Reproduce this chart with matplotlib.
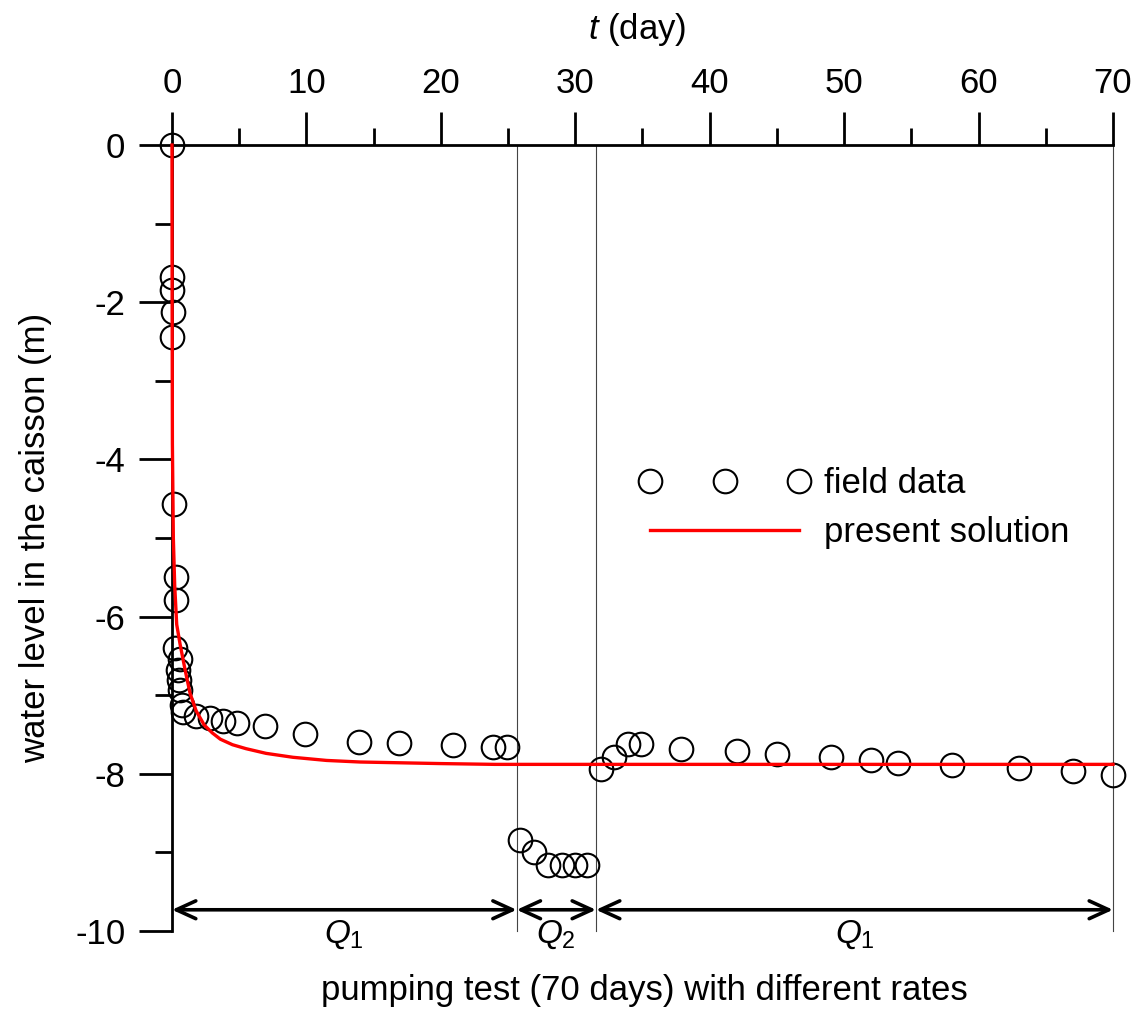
import matplotlib
matplotlib.use("Agg")
import matplotlib.pyplot as plt
from matplotlib.legend_handler import HandlerLine2D
from matplotlib.lines import Line2D

plt.rcParams['font.family'] = ['Liberation Sans', 'DejaVu Sans']
plt.rcParams['mathtext.fontset'] = 'custom'
plt.rcParams['mathtext.rm'] = 'Liberation Sans'
plt.rcParams['mathtext.it'] = 'Liberation Sans:italic'
plt.rcParams['axes.unicode_minus'] = False

# field data, Q1 (first stage)
t_q1a = [0, 0, 0, 0.05, 0, 0.15, 0.27, 0.27, 0.25, 0.6, 0.45, 0.5, 0.6, 0.72, 0.85,
         1.8, 2.8, 3.8, 4.8, 6.9, 9.9, 13.9, 16.9, 20.9, 23.9, 24.9]
h_q1a = [0, -1.68, -1.84, -2.13, -2.44, -4.57, -5.49, -5.79, -6.40, -6.54, -6.68, -6.81,
         -6.93, -7.12, -7.22, -7.26, -7.29, -7.33, -7.36, -7.39, -7.49, -7.60, -7.61,
         -7.63, -7.66, -7.66]
# field data, Q2
t_q2 = [25.9, 26.9, 28.0, 29.0, 30.0, 30.9]
h_q2 = [-8.84, -9.00, -9.16, -9.16, -9.16, -9.16]
# field data, Q1 (second stage)
t_q1b = [31.9, 32.9, 33.9, 34.9, 37.9, 42, 45, 49, 52, 54, 58, 63, 67, 70]
h_q1b = [-7.94, -7.78, -7.62, -7.62, -7.68, -7.71, -7.75, -7.78, -7.82, -7.86, -7.89,
         -7.93, -7.97, -8.01]

# present solution
t_sol = [0, 0.01, 0.03, 0.1, 0.2, 0.35, 0.6, 1.0, 1.35, 1.8, 2.4, 3.0, 3.6, 4.5, 5.5,
         7, 9, 11.5, 14, 17, 20, 24, 30, 40, 50, 60, 70]
h_sol = [0, -2.0, -3.8, -5.0, -5.6, -6.1, -6.35, -6.7, -6.98, -7.2, -7.38, -7.48, -7.56,
         -7.63, -7.68, -7.74, -7.79, -7.83, -7.85, -7.86, -7.87, -7.88, -7.88, -7.88,
         -7.88, -7.88, -7.88]

# pumping stages
stage_edges = [0, 25.64, 31.54, 70]
stage_labels = [r'$Q_\mathit{1}$', r'$Q_\mathit{2}$', r'$Q_\mathit{1}$']

t_field = t_q1a + t_q2 + t_q1b
h_field = h_q1a + h_q2 + h_q1b

fig = plt.figure(figsize=(11.38, 10.17), dpi=100)
ax = fig.add_axes([0.15114, 0.08456, 0.82689, 0.77286])

ax.plot(t_field, h_field, linestyle='none', marker='o', ms=17, mfc='none',
        mec='black', mew=1.5, clip_on=False, zorder=3, label='field data')
ax.plot(t_sol, h_sol, color='#ff0000', lw=2.4, zorder=4, clip_on=False,
        label='present solution')

# stage boundaries
for x in stage_edges[1:]:
    ax.axvline(x, color='#444444', lw=0.8, zorder=1, clip_on=False)

# arrows and labels for the stages
for i in range(len(stage_edges) - 1):
    a, b = stage_edges[i], stage_edges[i + 1]
    ax.annotate('', xy=(b, -9.73), xytext=(a, -9.73), annotation_clip=False,
                arrowprops=dict(arrowstyle='<->,head_length=0.7,head_width=0.32',
                                color='black', lw=2.6, shrinkA=0, shrinkB=0,
                                mutation_scale=20))
    ax.text((a + b) / 2, -10.15, stage_labels[i], fontsize=24, ha='center',
            va='baseline', clip_on=False)

ax.set_xlim(0, 70)
ax.set_ylim(-10, 0)

ax.spines['right'].set_visible(False)
ax.spines['bottom'].set_visible(False)
ax.spines['left'].set_linewidth(2.0)
ax.spines['top'].set_linewidth(2.0)

ax.xaxis.tick_top()
ax.xaxis.set_label_position('top')
ax.set_xticks(range(0, 71, 10))
ax.set_xticks(range(5, 70, 10), minor=True)
ax.set_yticks(range(-10, 1, 2))
ax.set_yticks(range(-9, 0, 2), minor=True)

ax.tick_params(axis='both', which='major', direction='out', length=23.5, width=2.0,
               labelsize=25)
ax.tick_params(axis='both', which='minor', direction='out', length=12.5, width=2.0)
ax.tick_params(axis='x', which='major', pad=9)
ax.tick_params(axis='y', which='major', pad=10)

ax.set_xlabel(r'$t$ (day)', fontsize=25)
ax.xaxis.set_label_coords(0.494, 1.135)
ax.set_ylabel('water level in the caisson (m)', fontsize=25)
ax.yaxis.set_label_coords(-0.127, 0.5)

fig.text(0.5659, 0.0167, 'pumping test (70 days) with different rates', fontsize=25,
         ha='center', va='baseline')

handles = [Line2D([], [], linestyle='none', marker='o', ms=17, mfc='none',
                  mec='black', mew=1.5),
           Line2D([], [], color='#ff0000', lw=2.4)]
ax.legend(handles, ['field data', 'present solution'], loc='upper left',
          bbox_to_anchor=(35.56, -4.1), bbox_transform=ax.transData,
          frameon=False, fontsize=25, numpoints=3, handlelength=4.3,
          handletextpad=0.7, labelspacing=0.45, borderpad=0, borderaxespad=0,
          handler_map={Line2D: HandlerLine2D(marker_pad=0)})

fig.savefig('out.png', dpi=100)
